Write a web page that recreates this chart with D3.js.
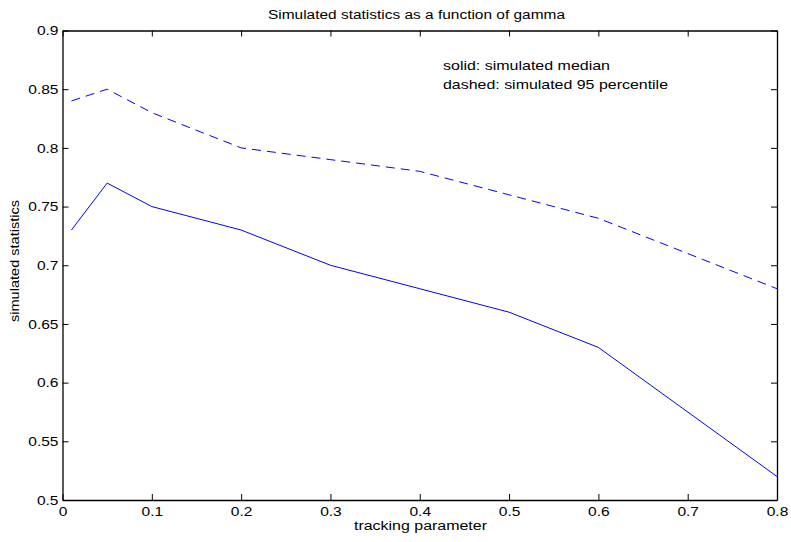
<!DOCTYPE html>
<html>
<head>
<meta charset="utf-8">
<script src="https://cdn.jsdelivr.net/npm/d3@7"></script>
<style>
  body { margin: 0; background: #fff; }
  text { font-family: "Liberation Sans", Arial, sans-serif; fill: #000; }
</style>
</head>
<body>
<div id="chart"></div>
<script>
var gamma = [0.01, 0.05, 0.1, 0.2, 0.3, 0.4, 0.5, 0.6, 0.8];
var medianStat = [0.73, 0.77, 0.75, 0.73, 0.70, 0.68, 0.66, 0.63, 0.52];
var pct95Stat = [0.84, 0.85, 0.83, 0.80, 0.79, 0.78, 0.76, 0.74, 0.68];
var xTicks = [0, 0.1, 0.2, 0.3, 0.4, 0.5, 0.6, 0.7, 0.8];
var yTicks = [0.5, 0.55, 0.6, 0.65, 0.7, 0.75, 0.8, 0.85, 0.9];

var svgWidth = 791;
var svgHeight = 542;
var margin = { top: 30.5, right: 14, bottom: 42, left: 62.5 };
var width = svgWidth - margin.left - margin.right;
var height = svgHeight - margin.top - margin.bottom;

var svg = d3.select("#chart")
  .append("svg")
  .attr("width", svgWidth)
  .attr("height", svgHeight);

var chartGroup = svg.append("g")
  .attr("transform", `translate(${margin.left}, ${margin.top})`);

var xScale = d3.scaleLinear().domain([0, 0.8]).range([0, width]);
var yScale = d3.scaleLinear().domain([0.5, 0.9]).range([height, 0]);

var fmt = d => String(+d.toFixed(2));

// the reference text is a bit wider than normal Helvetica, so stretch it
function stretch(sel, k) {
  sel.each(function() {
    var w = this.getComputedTextLength();
    d3.select(this).attr("textLength", w * k).attr("lengthAdjust", "spacingAndGlyphs");
  });
}

// axes with inward ticks on all four sides
var bottomAxis = d3.axisBottom(xScale).tickValues(xTicks).tickSizeInner(-6).tickSizeOuter(0).tickPadding(6.5).tickFormat(fmt);
var topAxis = d3.axisTop(xScale).tickValues(xTicks).tickSizeInner(-6).tickSizeOuter(0).tickFormat("");
var leftAxis = d3.axisLeft(yScale).tickValues(yTicks).tickSizeInner(-6).tickSizeOuter(0).tickPadding(4).tickFormat(fmt);
var rightAxis = d3.axisRight(yScale).tickValues(yTicks).tickSizeInner(-6).tickSizeOuter(0).tickFormat("");

function styleAxis(g) {
  g.selectAll("path").attr("stroke", "#000").attr("stroke-width", 1.3);
  g.selectAll("line").attr("stroke", "#000").attr("stroke-width", 1);
  g.selectAll("text")
    .style("font-size", "13.5px")
    .style("font-family", "Liberation Sans, Arial, sans-serif")
    .call(stretch, 1.15);
}

chartGroup.append("g").attr("transform", `translate(0, ${height})`).call(bottomAxis).call(styleAxis);
chartGroup.append("g").call(topAxis).call(styleAxis);
chartGroup.append("g").call(leftAxis).call(styleAxis);
chartGroup.append("g").attr("transform", `translate(${width}, 0)`).call(rightAxis).call(styleAxis);

var line = d3.line()
  .x(d => xScale(d[0]))
  .y(d => yScale(d[1]));

chartGroup.append("path")
  .datum(d3.zip(gamma, medianStat))
  .attr("d", line)
  .attr("fill", "none")
  .attr("stroke", "#0000ff")
  .attr("stroke-width", 1);

chartGroup.append("path")
  .datum(d3.zip(gamma, pct95Stat))
  .attr("d", line)
  .attr("fill", "none")
  .attr("stroke", "#0000ff")
  .attr("stroke-width", 1)
  .attr("stroke-dasharray", "9,6");

// title and labels
svg.append("text")
  .attr("x", 416.5)
  .attr("y", 19)
  .attr("text-anchor", "middle")
  .style("font-size", "12.5px")
  .attr("textLength", 297)
  .attr("lengthAdjust", "spacingAndGlyphs")
  .text("Simulated statistics as a function of gamma");

svg.append("text")
  .attr("x", 420.5)
  .attr("y", 530)
  .attr("text-anchor", "middle")
  .style("font-size", "12.5px")
  .attr("textLength", 133)
  .attr("lengthAdjust", "spacingAndGlyphs")
  .text("tracking parameter");

svg.append("text")
  .attr("transform", `translate(18.5, 261) rotate(-90)`)
  .attr("text-anchor", "middle")
  .style("font-size", "13px")
  .attr("textLength", 122)
  .attr("lengthAdjust", "spacingAndGlyphs")
  .text("simulated statistics");

svg.append("text")
  .attr("x", 443)
  .attr("y", 70)
  .style("font-size", "13px")
  .attr("textLength", 167)
  .attr("lengthAdjust", "spacingAndGlyphs")
  .text("solid: simulated median");

svg.append("text")
  .attr("x", 443)
  .attr("y", 89)
  .style("font-size", "13px")
  .attr("textLength", 225)
  .attr("lengthAdjust", "spacingAndGlyphs")
  .text("dashed: simulated 95 percentile");
</script>
</body>
</html>
